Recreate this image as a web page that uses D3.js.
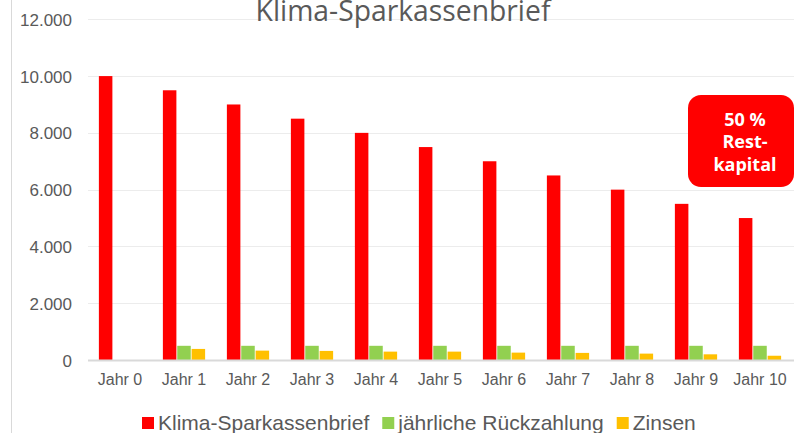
<!DOCTYPE html>
<html><head><meta charset="utf-8">
<script src="https://cdn.jsdelivr.net/npm/d3@7"></script>
<style>html,body{margin:0;padding:0;background:#fff;overflow:hidden}</style>
</head><body>
<svg id="c" width="794" height="433"></svg>
<script>
const categories = ["Jahr 0","Jahr 1","Jahr 2","Jahr 3","Jahr 4","Jahr 5","Jahr 6","Jahr 7","Jahr 8","Jahr 9","Jahr 10"];
const kapital = [10000,9500,9000,8500,8000,7500,7000,6500,6000,5500,5000];
const rueckzahlung = [0,500,500,500,500,500,500,500,500,500,500];
const zinsen = [0,390,330,320,295,295,260,250,225,200,150];
const seriesNames = ["Klima-Sparkassenbrief","jährliche Rückzahlung","Zinsen"];
const seriesColors = ["#FF0000","#92D050","#FFC000"];
const yTicks = [0,2000,4000,6000,8000,10000,12000];
const title = "Klima-Sparkassenbrief";
const calloutLines = ["50 %","Rest-","kapital"];

const svg = d3.select("#c");
const gray = "#595959";
const fmt = d => d3.format(",")(d).replace(/,/g,".");

const mLeft = 88, mRight = 792, mTop = 19.3, mBottom = 360;
const x = d3.scaleBand().domain(categories).range([mLeft,mRight]).paddingInner(0.34).paddingOuter(0.17);
const xs = d3.scaleBand().domain(seriesNames).range([0,x.bandwidth()]).paddingInner(0.06);
const y = d3.scaleLinear().domain([0,12000]).range([mBottom,mTop]);

// left border line
svg.append("line").attr("x1",11.5).attr("x2",11.5).attr("y1",0).attr("y2",433).attr("stroke","#d9d9d9").attr("stroke-width",1);

// gridlines
svg.append("g").selectAll("line").data(yTicks.filter(d=>d>0)).join("line")
  .attr("x1",mLeft).attr("x2",794).attr("y1",d=>Math.round(y(d))+0.5).attr("y2",d=>Math.round(y(d))+0.5)
  .attr("stroke","#ececec").attr("stroke-width",1);

// y labels
const yAxis = d3.axisLeft(y).tickValues(yTicks).tickFormat(fmt).tickSize(0).tickPadding(0);
const gy = svg.append("g").attr("transform",`translate(72,0)`).call(yAxis);
gy.select(".domain").remove();
gy.selectAll("text").attr("fill",gray).attr("font-family","Liberation Sans, Arial, sans-serif").attr("font-size",17).attr("dy","0.36em");

// bars
const series = [kapital, rueckzahlung, zinsen];
series.forEach((vals,si)=>{
  svg.append("g").selectAll("rect").data(categories).join("rect")
    .attr("x",(c)=>x(c)+xs(seriesNames[si]))
    .attr("width",xs.bandwidth())
    .attr("y",(c,i)=>y(vals[i]))
    .attr("height",(c,i)=>y(0)-y(vals[i]))
    .attr("fill",seriesColors[si]);
});

// baseline axis
svg.append("line").attr("x1",mLeft).attr("x2",794).attr("y1",mBottom+0.5).attr("y2",mBottom+0.5).attr("stroke","#d9d9d9").attr("stroke-width",2);

// x labels
const xAxis = d3.axisBottom(x).tickSize(0).tickPadding(0);
const gx = svg.append("g").attr("transform",`translate(0,${mBottom})`).call(xAxis);
gx.select(".domain").remove();
gx.selectAll("text").attr("fill",gray).attr("font-family","Liberation Sans, Arial, sans-serif").attr("font-size",16).attr("dy",null).attr("y",25);

// title (cut at the top edge, as in the reference)
const t = svg.append("text").attr("x",403).attr("y",21).attr("text-anchor","middle").attr("fill",gray)
  .attr("font-family","Open Sans, sans-serif").attr("font-size",26).text(title);
const tw = t.node().getComputedTextLength();
t.attr("font-size",26*295/tw);

// legend
const lg = svg.append("g");
let lx = 142;
seriesNames.forEach((n,i)=>{
  lg.append("rect").attr("x",lx).attr("y",417).attr("width",12).attr("height",12).attr("fill",seriesColors[i]);
  const tt = lg.append("text").attr("x",lx+16).attr("y",429.5).attr("fill",gray)
    .attr("font-family","Liberation Sans, Arial, sans-serif").attr("font-size",21).text(n);
  lx += 16 + tt.node().getComputedTextLength() + 13;
});

// callout
svg.append("rect").attr("x",688).attr("y",95).attr("width",106).attr("height",92).attr("rx",13).attr("fill","#FF0000");
svg.append("g").selectAll("text").data(calloutLines).join("text")
  .attr("x",745).attr("y",(d,i)=>126+i*22.3).attr("text-anchor","middle").attr("fill","#fff")
  .attr("font-family","Open Sans, sans-serif").attr("font-weight","bold").attr("font-size",18).text(d=>d);
</script>
</body></html>
